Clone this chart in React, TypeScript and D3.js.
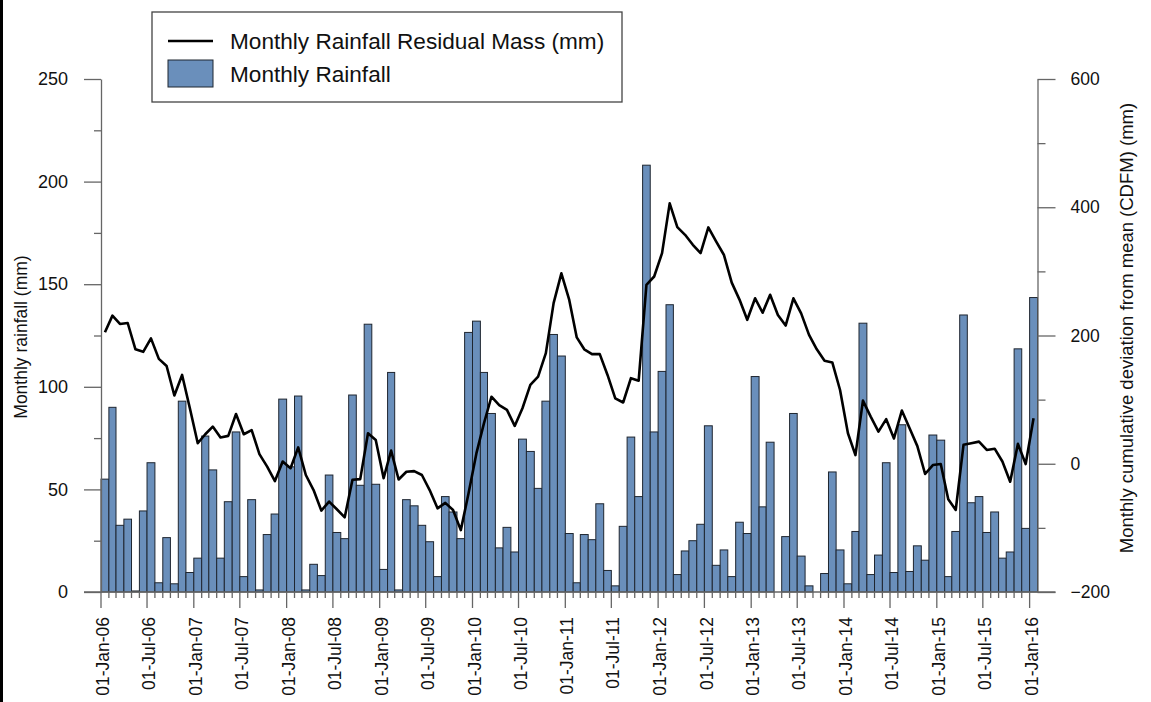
import { useEffect, useRef } from "react";
import * as d3 from "d3";

// first month shown and the month after the last bar
const startMonth = new Date(2006, 0, 1);
const endMonth = new Date(2016, 1, 1);

// monthly rainfall (mm), Jan-06 .. Jan-16
const rainfall = [
  55, 90, 32.5, 35.5, 0.5, 39.5, 63, 4.5, 26.5, 4, 93, 9.5,
  16.5, 76, 59.5, 16.5, 44, 78, 7.5, 45, 1, 28, 38, 94,
  61, 95.5, 1, 13.5, 8, 57, 29, 26, 96, 52, 130.5, 52.5,
  11, 107, 1, 45, 42, 32.5, 24.5, 7.5, 46.5, 39, 26, 126.5,
  132, 107, 87, 21.5, 31.5, 19.5, 74.5, 68.5, 50.5, 93, 125.5, 115,
  28.5, 4.5, 28, 25.5, 43, 10.5, 3, 32, 75.5, 46.5, 208, 78,
  107.5, 140, 8.5, 20, 25, 33, 81, 13, 20.5, 7.5, 34, 28.5,
  105, 41.5, 73, 0, 27, 87, 17.5, 3, 0, 9, 58.5, 20.5,
  4, 29.5, 131, 8.5, 18, 63, 9.5, 81.5, 10, 22.5, 15.5, 76.5,
  74, 7.5, 29.5, 135, 43.5, 46.5, 29, 39, 16.5, 19.5, 118.5, 31,
  143.5,
];

// cumulative deviation from mean (mm), same months
const residualMass = [
  205, 231, 218, 219.5, 178.5, 174.5, 195.5, 163.5, 152.5, 106.5, 138.5, 86.5,
  32, 46, 58, 41, 43.5, 77.5, 46, 52.5, 15, -4.5, -27, 3.5,
  -7, 25.5, -17.5, -41, -73, -59, -71, -83.5, -25, -24, 47.5, 37,
  -22.5, 20.5, -24.5, -12.5, -11.5, -17.5, -41, -69.5, -61, -72, -103.5, -46,
  16.5, 63, 104.5, 91.5, 84, 59, 86.5, 123, 136, 172.5, 250.5, 297,
  255.5, 197, 178.5, 171, 171, 138.5, 102, 95.5, 133.5, 129.5, 279, 292,
  328.5, 406, 369, 357, 341.5, 328.5, 368.5, 346.5, 325.5, 282.5, 256, 224.5,
  258, 235.5, 263.5, 232, 215.5, 258, 234.5, 201, 178.5, 160.5, 158, 115,
  47.5, 13.5, 98.5, 73.5, 50, 69.5, 39.5, 83, 55.5, 27.5, -16, -2,
  -0.5, -55.5, -72, 29.5, 32, 34.5, 21.5, 23.5, 3.5, -28, 31, -0.5,
  71,
];

const leftTicks = [0, 50, 100, 150, 200, 250];
const leftMinor = [25, 75, 125, 175, 225];
const rightTicks = [-200, 0, 200, 400, 600];
const rightMinor = [-100, 100, 300, 500];

const font = "'Liberation Sans', Arial, sans-serif";
const barFill = "#6a8fbb";
const axisGrey = "#666";

export default function App() {
  const svgRef = useRef<SVGSVGElement>(null);

  useEffect(() => {
    if (!svgRef.current) return;
    const svg = d3.select(svgRef.current);
    svg.selectAll("*").remove();

    const width = 1151;
    const height = 702;
    const months = d3.timeMonth.range(startMonth, endMonth);
    const data = months.map((d, i) => ({
      date: d,
      next: d3.timeMonth.offset(d, 1),
      rain: rainfall[i],
      mass: residualMass[i],
    }));

    const x = d3.scaleTime().domain([startMonth, endMonth]).range([101, 1037.5]);
    const yL = d3.scaleLinear().domain([0, 250]).range([592, 79]);
    const yR = d3.scaleLinear().domain([-200, 600]).range([592, 79]);

    svg.attr("viewBox", `0 0 ${width} ${height}`);

    svg.append("rect").attr("width", width).attr("height", height).attr("fill", "#ffffff");

    // frame edge on the left
    svg.append("line")
      .attr("x1", 1.5).attr("x2", 1.5).attr("y1", 0).attr("y2", height)
      .attr("stroke", "#000").attr("stroke-width", 3);

    // Bars
    svg.append("g")
      .selectAll("rect")
      .data(data.filter((d) => d.rain > 0))
      .join("rect")
      .attr("x", (d) => x(d.date))
      .attr("width", (d) => x(d.next) - x(d.date))
      .attr("y", (d) => yL(d.rain))
      .attr("height", (d) => yL(0) - yL(d.rain))
      .attr("fill", barFill)
      .attr("stroke", "#1f2630")
      .attr("stroke-width", 1);

    // Residual mass line
    const line = d3.line<(typeof data)[number]>()
      .x((d) => (x(d.date) + x(d.next)) / 2)
      .y((d) => yR(d.mass));

    svg.append("path")
      .datum(data)
      .attr("d", line)
      .attr("fill", "none")
      .attr("stroke", "#000")
      .attr("stroke-width", 2.6)
      .attr("stroke-linejoin", "round");

    // Left axis
    const left = svg.append("g").attr("transform", "translate(101,0)");
    left.call(
      d3.axisLeft(yL).tickValues(leftTicks).tickSize(17).tickSizeOuter(0).tickPadding(16)
    );
    left.selectAll(".tick text").attr("font-size", "18px");
    left.append("g").call(
      d3.axisLeft(yL).tickValues(leftMinor).tickSize(7).tickSizeOuter(0).tickFormat(() => "")
    ).select(".domain").remove();

    // Right axis
    const right = svg.append("g").attr("transform", "translate(1037.5,0)");
    right.call(
      d3.axisRight(yR).tickValues(rightTicks).tickSize(18).tickSizeOuter(0).tickPadding(15)
    );
    right.selectAll(".tick text").attr("font-size", "17.5px");
    right.append("g").call(
      d3.axisRight(yR).tickValues(rightMinor).tickSize(8).tickSizeOuter(0).tickFormat(() => "")
    ).select(".domain").remove();

    svg.selectAll(".tick text").attr("font-family", font).attr("fill", "#111");
    svg.selectAll(".domain, .tick line").attr("stroke", axisGrey).attr("stroke-width", 1.3);

    // Bottom axis: a tick each month, long ticks and labels each Jan / Jul
    const bottom = svg.append("g");
    bottom.append("line")
      .attr("x1", 84).attr("x2", 1055.5)
      .attr("y1", 592).attr("y2", 592)
      .attr("stroke", axisGrey).attr("stroke-width", 1.3);

    const allTicks = d3.timeMonth.range(startMonth, endMonth);
    const majors = allTicks.filter((d) => d.getMonth() % 6 === 0);

    bottom.selectAll(".mtick")
      .data(allTicks)
      .join("line")
      .attr("class", "mtick")
      .attr("x1", (d) => x(d)).attr("x2", (d) => x(d))
      .attr("y1", 592)
      .attr("y2", (d) => (d.getMonth() % 6 === 0 ? 608 : 598))
      .attr("stroke", axisGrey).attr("stroke-width", 1.3);

    const fmt = d3.timeFormat("%d-%b-%y");
    bottom.selectAll(".mlabel")
      .data(majors)
      .join("text")
      .attr("class", "mlabel")
      .attr("transform", (d) => `translate(${x(d) + 2},617) rotate(-90)`)
      .attr("text-anchor", "end")
      .attr("dy", "0.35em")
      .attr("font-family", font)
      .attr("font-size", "17.5px")
      .attr("fill", "#111")
      .text((d) => fmt(d));

    // Axis titles
    svg.append("text")
      .attr("transform", "translate(21,337) rotate(-90)")
      .attr("text-anchor", "middle")
      .attr("dy", "0.35em")
      .attr("font-family", font)
      .attr("font-size", "17.5px")
      .attr("fill", "#111")
      .text("Monthly rainfall (mm)");

    svg.append("text")
      .attr("transform", "translate(1127,328) rotate(-90)")
      .attr("text-anchor", "middle")
      .attr("dy", "0.35em")
      .attr("font-family", font)
      .attr("font-size", "18.5px")
      .attr("fill", "#111")
      .text("Monthly cumulative deviation from mean (CDFM) (mm)");

    // Legend
    const legend = svg.append("g");
    legend.append("rect")
      .attr("x", 152).attr("y", 12).attr("width", 470).attr("height", 90)
      .attr("fill", "#fff").attr("stroke", "#444").attr("stroke-width", 1.3);
    legend.append("line")
      .attr("x1", 168).attr("x2", 213).attr("y1", 41).attr("y2", 41)
      .attr("stroke", "#000").attr("stroke-width", 2.6);
    legend.append("rect")
      .attr("x", 168).attr("y", 60).attr("width", 45).attr("height", 27)
      .attr("fill", barFill).attr("stroke", "#1f2630").attr("stroke-width", 1);
    legend.selectAll(".ltext")
      .data(["Monthly Rainfall Residual Mass (mm)", "Monthly Rainfall"])
      .join("text")
      .attr("class", "ltext")
      .attr("x", 230)
      .attr("y", (_, i) => 41 + i * 33)
      .attr("dy", "0.35em")
      .attr("font-family", font)
      .attr("font-size", "22.6px")
      .attr("fill", "#111")
      .text((d) => d);
  }, []);

  return (
    <svg
      ref={svgRef}
      width={1151}
      height={702}
      style={{ position: "absolute", left: 0, top: 0, display: "block" }}
    />
  );
}
